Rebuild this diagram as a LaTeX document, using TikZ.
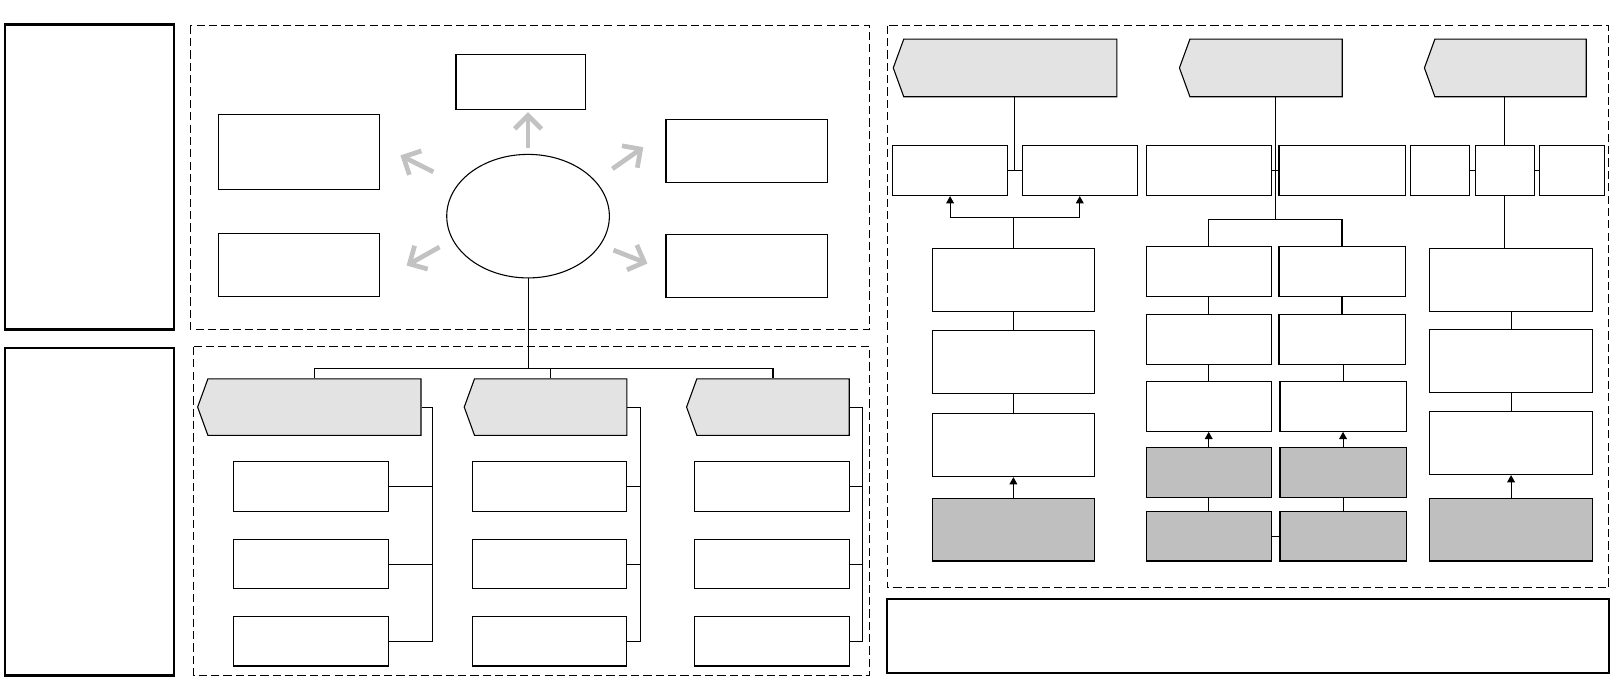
\documentclass[tikz,border=0pt]{standalone}
\usepackage{xcolor}
\usepackage{tikz}
\usetikzlibrary{positioning,arrows.meta,calc,fit,shapes.geometric,shapes.symbols}
\definecolor{SKgrey}{HTML}{BFBFBF}
\definecolor{SKtag}{HTML}{E3E3E3}
\definecolor{SKspoke}{HTML}{C2C2C2}
\tikzset{
  panel/.style={draw=black, dash pattern=on 1.6mm off 0.8mm, line width=0.6pt},
  sideframe/.style={draw=black, line width=1.4pt, inner sep=0pt},
  plaincell/.style={draw=black, fill=white, line width=0.6pt, inner sep=0pt},
  darkcell/.style={plaincell, fill=SKgrey},
  tagcell/.style={signal, signal to=west, signal from=nowhere, signal pointer angle=140,
    draw=black, fill=SKtag, line width=0.6pt, inner sep=0pt},
  hubcell/.style={ellipse, draw=black, fill=white, line width=0.6pt, inner sep=0pt},
  link/.style={draw=black, line width=0.6pt},
  linkarr/.style={link, -{Triangle[length=1.4mm,width=1.5mm]}},
  spoke/.style={draw=SKspoke, line width=2.6pt, -{Straight Barb[length=2.6mm,width=5.2mm]}}
}

\begin{document}
\begin{tikzpicture}[x=0.2mm, y=-0.2mm]
  \useasboundingbox (0,0) rectangle (1568,661);

  % side frames and panels
  \node[sideframe, fit={(5,24) (169,320)}] (sideA) {};
  \node[sideframe, fit={(5,338) (169,656)}] (sideB) {};
  \draw[panel] (185,25) rectangle (845,320);
  \draw[panel] (188,337) rectangle (845,656);
  \draw[panel] (862,25) rectangle (1563,571);
  \node[sideframe, line width=1.2pt, fit={(862,582) (1563,654)}] (note) {};

  % upper left panel
  \node[hubcell, minimum width=31.6mm, minimum height=24mm] (hub) at (513,210) {};
  \node[plaincell, fit={(443,53) (569,106)}] (top) {};
  \node[plaincell, fit={(212,111) (369,184)}] (lup) {};
  \node[plaincell, fit={(212,227) (369,288)}] (llow) {};
  \node[plaincell, fit={(647,116) (804,177)}] (rup) {};
  \node[plaincell, fit={(647,228) (804,289)}] (rlow) {};
  \draw[spoke] ($(hub.center)+(0,-66)$) -- ($(hub.center)+(0,-101)$);
  \draw[spoke] ($(hub.center)+(-92,-43)$) -- ($(hub.center)+(-124,-59)$);
  \draw[spoke] ($(hub.center)+(82,-46)$) -- ($(hub.center)+(112,-67)$);
  \draw[spoke] ($(hub.center)+(-86,30)$) -- ($(hub.center)+(-118,48)$);
  \draw[spoke] ($(hub.center)+(83,33)$) -- ($(hub.center)+(116,46)$);

  % lower left panel
  \node[tagcell, fit={(202,368) (409,423)}] (ga) {};
  \node[tagcell, fit={(461,368) (609,423)}] (gb) {};
  \node[tagcell, fit={(677,368) (825,423)}] (gc) {};
  \node[plaincell, fit={(227,448) (377,497)}] (a1) {};
  \node[plaincell, fit={(227,524) (377,572)}] (a2) {};
  \node[plaincell, fit={(227,599) (377,647)}] (a3) {};
  \node[plaincell, fit={(459,448) (609,497)}] (b1) {};
  \node[plaincell, fit={(459,524) (609,572)}] (b2) {};
  \node[plaincell, fit={(459,599) (609,647)}] (b3) {};
  \node[plaincell, fit={(675,448) (825,497)}] (c1) {};
  \node[plaincell, fit={(675,524) (825,572)}] (c2) {};
  \node[plaincell, fit={(675,599) (825,647)}] (c3) {};

  \coordinate (bus) at ($(hub.south)+(0,87.5)$);
  \draw[link] (hub.south) -- (bus);
  \draw[link] (ga.north) |- (bus) -| (gc.north);
  \draw[link] (gb.north) -- (gb.north |- bus);
  \coordinate (ra) at ($(ga.east)+(10.5,0)$);
  \coordinate (rb) at ($(gb.east)+(13,0)$);
  \coordinate (rc) at ($(gc.east)+(12,0)$);
  \draw[link] (ga.east) -- (ra) |- (a3.east);
  \draw[link] (a1.east) -- (a1.east -| ra);
  \draw[link] (a2.east) -- (a2.east -| ra);
  \draw[link] (gb.east) -- (rb) |- (b3.east);
  \draw[link] (b1.east) -- (b1.east -| rb);
  \draw[link] (b2.east) -- (b2.east -| rb);
  \draw[link] (gc.east) -- (rc) |- (c3.east);
  \draw[link] (c1.east) -- (c1.east -| rc);
  \draw[link] (c2.east) -- (c2.east -| rc);

  % right panel, headers
  \node[tagcell, fit={(878,38) (1085,94)}] (ha) {};
  \node[tagcell, fit={(1156,38) (1304,94)}] (hb) {};
  \node[tagcell, fit={(1394,38) (1541,94)}] (hc) {};

  % right panel, second row
  \node[plaincell, fit={(867,141.5) (979,190)}] (ra1) {};
  \node[plaincell, fit={(993,141.5) (1105,190)}] (ra2) {};
  \node[plaincell, fit={(1113.5,141.5) (1235,190)}] (rb1) {};
  \node[plaincell, fit={(1242.5,141.5) (1365,190)}] (rb2) {};
  \node[plaincell, fit={(1370,141.5) (1428,190)}] (rc1) {};
  \node[plaincell, fit={(1433,141.5) (1491,190)}] (rc2) {};
  \node[plaincell, fit={(1496,141.5) (1559,190)}] (rc3) {};

  % right panel, first column
  \node[plaincell, fit={(906,241) (1063,302.5)}] (h1) {};
  \node[plaincell, fit={(906,321) (1063,382)}] (h2) {};
  \node[plaincell, fit={(906,401.5) (1063,463)}] (h3) {};
  \node[darkcell, fit={(906,484) (1063,545)}] (h4) {};

  % right panel, second column
  \node[plaincell, fit={(1113.5,239.5) (1235,288)}] (l1) {};
  \node[plaincell, fit={(1113.5,305.5) (1235,354)}] (l2) {};
  \node[plaincell, fit={(1113.5,370.5) (1235,419)}] (l3) {};
  \node[darkcell, fit={(1113.5,434.5) (1235,483)}] (l4) {};
  \node[darkcell, fit={(1113.5,497) (1235,545)}] (l5) {};
  \node[plaincell, fit={(1242.5,239.5) (1365,288)}] (m1) {};
  \node[plaincell, fit={(1242.5,305.5) (1365,354)}] (m2) {};
  \node[plaincell, fit={(1243.5,370.5) (1366,419)}] (m3) {};
  \node[darkcell, fit={(1243.5,434.5) (1366,483)}] (m4) {};
  \node[darkcell, fit={(1243.5,497) (1366,545)}] (m5) {};

  % right panel, third column
  \node[plaincell, fit={(1389,241) (1547,302.5)}] (n1) {};
  \node[plaincell, fit={(1389,320) (1547,381)}] (n2) {};
  \node[plaincell, fit={(1389,400) (1547,461)}] (n3) {};
  \node[darkcell, fit={(1389,484) (1547,545)}] (n4) {};

  % first column links
  \coordinate (gapA) at ($(ra1.east)!0.5!(ra2.west)$);
  \draw[link] (ra1.east) -- (ra2.west);
  \draw[link] (gapA |- ha.south) -- (gapA);
  \coordinate (forkA) at ($(h1.north)+(0,-29)$);
  \draw[link] (h1.north) -- (forkA);
  \draw[linkarr] (forkA) -| (ra1.south);
  \draw[linkarr] (forkA) -| (ra2.south);
  \draw[link] (h1.south) -- (h2.north);
  \draw[link] (h2.south) -- (h3.north);
  \draw[linkarr] (h4.north) -- (h3.south);

  % second column links
  \coordinate (gapB) at ($(rb1.east)!0.5!(rb2.west)$);
  \coordinate (forkB) at ($(gapB)+(0,47.5)$);
  \draw[link] (rb1.east) -- (rb2.west);
  \draw[link] (gapB |- hb.south) -- (forkB);
  \draw[link] (l1.north) |- (forkB) -| (m1.north);
  \draw[link] (l1.south) -- (l2.north);
  \draw[link] (l2.south) -- (l3.north);
  \draw[linkarr] (l4.north) -- (l3.south);
  \draw[link] (l4.south) -- (l5.north);
  \draw[link] (m1.south) -- (m2.north);
  \draw[link] ([xshift=0.2mm]m2.south) -- (m3.north);
  \draw[linkarr] (m4.north) -- (m3.south);
  \draw[link] (m4.south) -- (m5.north);
  \draw[link] (l5.east) -- (m5.west);

  % third column links
  \draw[link] (rc2.north |- hc.south) -- (rc2.north);
  \draw[link] (rc1.east) -- (rc2.west);
  \draw[link] (rc2.east) -- (rc3.west);
  \draw[link] (rc2.south) -- (rc2.south |- n1.north);
  \draw[link] (n1.south) -- (n2.north);
  \draw[link] (n2.south) -- (n3.north);
  \draw[linkarr] (n4.north) -- (n3.south);
\end{tikzpicture}
\end{document}
